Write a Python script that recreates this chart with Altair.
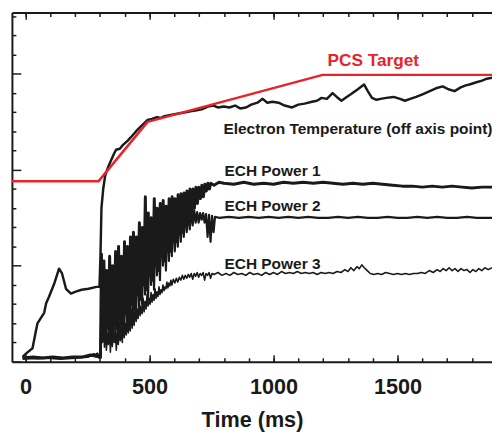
import altair as alt
import pandas as pd

# ---------------- data (time in ms, signal in arbitrary units) ----------------
te = [(-12,0.05),(4,0.09),(28,0.14),(40,0.30),(48,0.40),(60,0.45),(75,0.51),(83,0.61),(95,0.68),
      (115,0.81),(135,0.97),(147,0.92),(163,0.76),(183,0.71),(202,0.73),(226,0.75),(254,0.76),
      (286,0.78),(298,0.78),(302,1.10),(306,1.60),(313,1.80),(321,1.94),(333,2.03),(345,2.10),
      (357,2.17),(365,2.21),(380,2.22),(393,2.26),(410,2.30),(425,2.34),(445,2.40),(464,2.45),
      (480,2.49),(492,2.52),(510,2.53),(530,2.55),(545,2.54),(560,2.56),(580,2.57),(600,2.58),
      (623,2.59),(645,2.60),(665,2.61),(690,2.62),(710,2.63),(735,2.66),(758,2.67),(775,2.65),
      (800,2.66),(821,2.65),(845,2.67),(865,2.64),(889,2.65),(910,2.68),(935,2.70),(956,2.74),
      (975,2.70),(995,2.71),(1020,2.70),(1045,2.67),(1075,2.65),(1100,2.68),(1125,2.69),
      (1155,2.71),(1175,2.72),(1194,2.75),(1215,2.74),(1238,2.80),(1255,2.76),(1274,2.72),
      (1295,2.76),(1313,2.79),(1340,2.84),(1365,2.89),(1380,2.82),(1397,2.75),(1415,2.73),
      (1432,2.74),(1455,2.75),(1484,2.76),(1510,2.74),(1530,2.72),(1551,2.74),(1575,2.76),
      (1603,2.79),(1630,2.82),(1655,2.85),(1682,2.87),(1705,2.84),(1730,2.82),(1755,2.86),
      (1775,2.88),(1790,2.89),(1815,2.91),(1841,2.93),(1860,2.95),(1881,2.96)]

ech1 = [(-12,0.04),(30,0.05),(70,0.04),(110,0.05),(150,0.04),(190,0.05),(230,0.05),(262,0.07),
        (280,0.06),(298,0.05),(302,0.05),(306,1.12),(311,0.30),(316,1.05),(321,0.25),(327,0.95),
        (333,0.35),(339,1.10),(345,0.30),(351,1.00),(357,0.40),(363,1.15),(369,0.35),(375,1.20),
        (381,0.45),(387,1.10),(393,0.40),(399,1.25),(405,0.50),(411,1.20),(417,0.45),(423,1.30),
        (429,0.60),(435,1.35),(441,0.55),(447,1.30),(453,0.70),(459,1.45),(465,0.65),(471,1.40),
        (477,0.80),(483,1.72),(489,0.75),(495,1.55),(501,0.90),(507,1.50),(513,0.85),(519,1.70),
        (525,1.00),(531,1.60),(537,0.95),(543,1.65),(549,1.10),(555,1.68),(561,1.05),(567,1.62),
        (573,1.20),(579,1.70),(585,1.15),(591,1.72),(597,1.30),(603,1.70),(609,1.25),(615,1.74),
        (621,1.40),(627,1.75),(633,1.35),(639,1.76),(645,1.50),(651,1.78),(657,1.45),(663,1.80),
        (669,1.55),(675,1.80),(681,1.60),(687,1.82),(693,1.65),(699,1.82),(705,1.70),(711,1.84),
        (717,1.72),(723,1.85),(729,1.78),(735,1.86),(741,1.80),(747,1.86),(760,1.84),(780,1.87),
        (800,1.86),(840,1.85),(880,1.87),(920,1.85),(960,1.86),(1000,1.85),(1040,1.87),
        (1080,1.86),(1120,1.87),(1160,1.86),(1200,1.87),(1240,1.86),(1280,1.85),(1320,1.86),
        (1360,1.85),(1400,1.86),(1440,1.85),(1480,1.84),(1520,1.83),(1560,1.83),(1600,1.82),
        (1640,1.83),(1680,1.82),(1720,1.83),(1760,1.82),(1800,1.81),(1840,1.82),(1881,1.82)]

ech2 = [(-12,0.03),(40,0.04),(90,0.04),(140,0.03),(200,0.04),(250,0.05),(275,0.08),(298,0.04),
        (302,0.04),(308,0.95),(314,0.22),(320,0.85),(326,0.18),(332,0.90),(338,0.25),(344,0.80),
        (350,0.20),(356,0.95),(362,0.28),(368,0.88),(374,0.22),(380,1.00),(386,0.30),(392,0.95),
        (398,0.35),(404,1.05),(410,0.32),(416,1.10),(422,0.45),(428,1.15),(434,0.40),(440,1.20),
        (446,0.50),(452,1.25),(458,0.55),(464,1.30),(470,0.60),(476,1.35),(482,0.70),(488,1.38),
        (494,0.65),(500,1.40),(506,0.80),(512,1.45),(518,0.75),(524,1.48),(530,0.90),(536,1.50),
        (542,0.85),(548,1.52),(554,1.00),(560,1.55),(566,0.95),(572,1.55),(578,1.05),(584,1.58),
        (590,1.10),(596,1.58),(602,1.15),(608,1.60),(614,1.20),(620,1.60),(626,1.25),(632,1.62),
        (638,1.30),(644,1.60),(650,1.35),(656,1.60),(662,1.38),(668,1.58),(674,1.42),(680,1.58),
        (686,1.45),(692,1.56),(698,1.45),(704,1.55),(710,1.48),(716,1.55),(722,1.45),(728,1.54),
        (734,1.30),(740,1.53),(746,1.25),(752,1.52),(758,1.35),(764,1.51),(780,1.50),(820,1.51),
        (860,1.50),(900,1.51),(940,1.50),(980,1.51),(1020,1.50),(1060,1.51),(1100,1.50),
        (1140,1.51),(1180,1.50),(1220,1.50),(1260,1.51),(1300,1.50),(1340,1.51),(1380,1.50),
        (1420,1.50),(1460,1.51),(1500,1.50),(1540,1.50),(1580,1.51),(1620,1.50),(1660,1.51),
        (1700,1.50),(1740,1.50),(1780,1.51),(1820,1.50),(1881,1.50)]

ech3 = [(-12,0.04),(50,0.03),(120,0.04),(180,0.04),(240,0.05),(270,0.06),(290,0.09),(298,0.05),
        (302,0.04),(306,0.40),(310,0.20),(314,0.45),(318,0.15),(322,0.35),(326,0.12),(330,0.30),
        (334,0.18),(338,0.38),(342,0.10),(346,0.32),(350,0.16),(354,0.40),(358,0.20),(362,0.30),
        (366,0.12),(370,0.35),(374,0.18),(378,0.42),(382,0.22),(386,0.36),(390,0.20),(394,0.45),
        (398,0.25),(402,0.40),(406,0.28),(410,0.50),(414,0.30),(418,0.45),(422,0.32),(426,0.55),
        (430,0.35),(434,0.50),(438,0.38),(442,0.58),(446,0.42),(450,0.55),(454,0.45),(458,0.62),
        (462,0.48),(466,0.58),(470,0.50),(474,0.66),(478,0.52),(482,0.63),(486,0.55),(490,0.70),
        (494,0.58),(498,0.66),(502,0.60),(506,0.72),(510,0.62),(514,0.70),(518,0.64),(522,0.76),
        (526,0.66),(530,0.73),(534,0.68),(538,0.78),(542,0.70),(546,0.75),(550,0.72),(554,0.80),
        (558,0.74),(562,0.78),(566,0.76),(570,0.83),(574,0.77),(578,0.82),(582,0.79),(586,0.85),
        (590,0.80),(596,0.86),(602,0.82),(608,0.87),(614,0.83),(620,0.88),(626,0.85),(632,0.90),
        (638,0.86),(644,0.90),(650,0.87),(656,0.91),(662,0.88),(668,0.92),(674,0.86),(680,0.92),
        (686,0.89),(692,0.93),(698,0.88),(704,0.92),(710,0.90),(716,0.93),(722,0.85),(728,0.92),
        (734,0.90),(740,0.93),(746,0.87),(752,0.92),(760,0.91),(776,0.93),(792,0.90),(808,0.92),
        (824,0.90),(840,0.93),(856,0.91),(872,0.92),(888,0.90),(904,0.93),(920,0.91),(936,0.92),
        (952,0.90),(968,0.93),(984,0.91),(1000,0.93),(1016,0.91),(1032,0.94),(1048,0.92),
        (1064,0.93),(1080,0.92),(1096,0.94),(1112,0.92),(1128,0.93),(1144,0.92),(1160,0.93),
        (1176,0.91),(1192,0.93),(1208,0.92),(1224,0.93),(1240,0.92),(1256,0.94),(1272,0.93),
        (1288,0.96),(1300,0.94),(1312,0.98),(1324,0.95),(1336,0.99),(1346,0.97),(1356,1.01),
        (1366,0.98),(1378,0.95),(1390,0.92),(1404,0.91),(1420,0.92),(1436,0.91),(1452,0.93),
        (1468,0.92),(1484,0.91),(1500,0.92),(1516,0.91),(1532,0.92),(1548,0.91),(1564,0.92),
        (1580,0.92),(1596,0.93),(1612,0.92),(1628,0.95),(1644,0.93),(1660,0.96),(1672,0.94),
        (1684,0.97),(1696,0.95),(1708,0.98),(1720,0.95),(1732,0.97),(1744,0.94),(1756,0.97),
        (1768,0.95),(1780,0.96),(1792,0.93),(1804,0.96),(1816,0.94),(1828,0.97),(1840,0.95),
        (1852,0.98),(1866,0.96),(1881,0.98)]

pcs = [(-55,1.88),(294,1.88),(492,2.50),(1198,2.99),(1881,2.99)]

x_major = [0, 500, 1000, 1500]
x_minor = [0, 100, 200, 300, 400, 500, 600, 700, 800, 900, 1000, 1100, 1200, 1300,
           1400, 1500, 1600, 1700, 1800]
y_major = [0, 1, 2, 3]
y_minor = [0.2, 0.4, 0.6, 0.8, 1.2, 1.4, 1.6, 1.8, 2.2, 2.4, 2.6, 2.8, 3.2, 3.4, 3.6]

labels_black = ["Electron Temperature (off axis point)", "ECH Power 1", "ECH Power 2", "ECH Power 3"]
labels_black_t = [798, 802, 802, 802]
labels_black_v = [2.43, 1.99, 1.62, 1.02]
label_red = ["PCS Target"]
label_red_t = [1218]
label_red_v = [3.13]

# ---------------- styling ----------------
W, H = 488, 355
FONT = "Liberation Sans, Arial, Helvetica, sans-serif"
INK = "#1a1a1a"
RED = "#e8232a"

xs = alt.Scale(domain=[-55, 1881], nice=False, zero=False)
ys = alt.Scale(domain=[0, 3.64], nice=False, zero=False)


def tick_axis(orient, values, size, offset, domain=False):
    return alt.Axis(orient=orient, values=values, tickSize=size, offset=offset,
                    labels=False, domain=domain, domainColor=INK, domainWidth=2,
                    grid=False, title=None, tickColor=INK, tickWidth=1.5)


x_main = alt.Axis(orient="bottom", values=x_major, ticks=False, tickSize=0, labels=True,
                  format="d", domain=True, domainColor=INK, domainWidth=2, grid=False,
                  labelFont=FONT, labelFontSize=22, labelFontWeight="bold", labelColor=INK,
                  labelPadding=15, labelFlush=False,
                  title="Time (ms)", titleFont=FONT, titleFontSize=22, titleFontWeight="bold",
                  titleColor=INK, titlePadding=13)
y_main = alt.Axis(orient="left", ticks=False, labels=False, domain=True, domainColor=INK,
                  domainWidth=2, grid=False, title=None)


def line(pairs, color, sw, xaxis, yaxis):
    df = pd.DataFrame(pairs, columns=["t", "v"])
    return alt.Chart(df).mark_line(color=color, strokeWidth=sw, clip=True,
                                   strokeJoin="round").encode(
        x=alt.X("t:Q", scale=xs, axis=xaxis),
        y=alt.Y("v:Q", scale=ys, axis=yaxis),
    )


l_te = line(te, INK, 2.5, x_main, y_main)
l_e1 = line(ech1, INK, 3.0, tick_axis("top", x_minor, 4, -H),
            tick_axis("right", y_minor, 4, -W))
l_e2 = line(ech2, INK, 2.2, tick_axis("top", x_major, 7, -H),
            tick_axis("right", y_major, 9, -W))
l_e3 = line(ech3, INK, 1.6, tick_axis("bottom", x_minor, 4, -H, domain=True), None)
l_pcs = line(pcs, RED, 2.5, tick_axis("bottom", x_major, 7, -H), None)

txt_df = pd.DataFrame({"t": labels_black_t, "v": labels_black_v, "label": labels_black})
txt = alt.Chart(txt_df).mark_text(align="left", baseline="middle", font=FONT, fontSize=15.7,
                                  fontWeight="bold", color=INK).encode(
    x=alt.X("t:Q", scale=xs, axis=None),
    y=alt.Y("v:Q", scale=ys, axis=None),
    text="label:N",
)
red_df = pd.DataFrame({"t": label_red_t, "v": label_red_v, "label": label_red})
txt_red = alt.Chart(red_df).mark_text(align="left", baseline="middle", font=FONT, fontSize=17.5,
                                      fontWeight="bold", color=RED).encode(
    x=alt.X("t:Q", scale=xs, axis=None),
    y=alt.Y("v:Q", scale=ys, axis=None),
    text="label:N",
)

chart = alt.layer(l_te, l_e1, l_e2, l_e3, l_pcs, txt, txt_red).resolve_axis(
    x="independent", y="independent"
).properties(
    width=W, height=H,
    autosize=alt.AutoSizeParams(type="none"),
    padding={"left": 4, "top": 1, "right": 0, "bottom": 76},
    background="white",
).configure_view(stroke=None)

chart.save("out.html", embed_options={"renderer": "svg", "actions": False})
